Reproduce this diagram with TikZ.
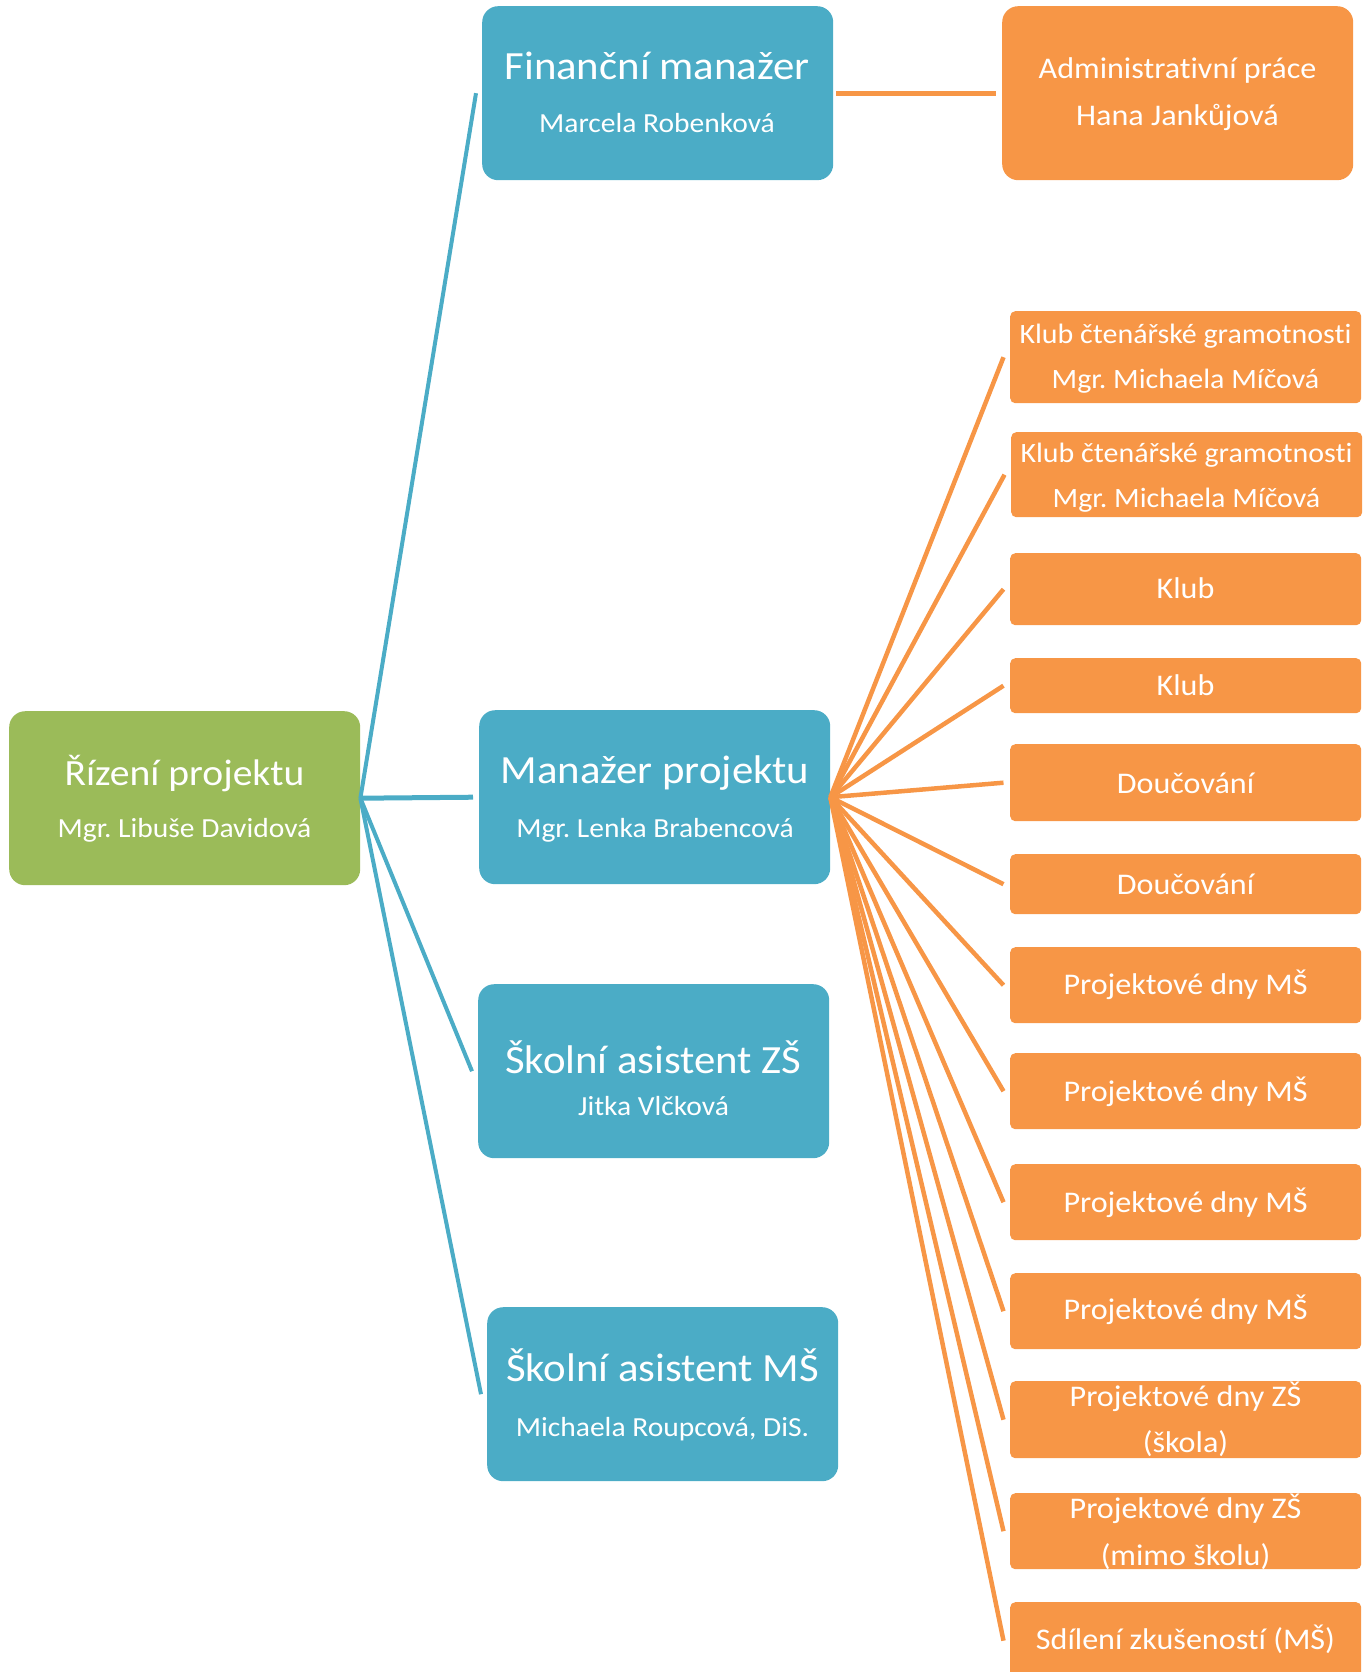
\documentclass[tikz,border=0pt]{standalone}
\usepackage{fontspec}
\setmainfont[FakeStretch=1.07, Ligatures=NoCommon]{Carlito}
\definecolor{cblue}{HTML}{4BACC6}
\definecolor{cgreen}{HTML}{9BBB59}
\definecolor{corange}{HTML}{F79646}
\begin{document}
\frenchspacing
\begin{tikzpicture}[x=1pt,y=-1pt,
  bigbox/.style={rounded corners=16pt, inner sep=0pt, anchor=north west, minimum width=351pt, minimum height=174pt},
  smallbox/.style={rounded corners=5pt, inner sep=0pt, anchor=north west, fill=corange, minimum width=351pt},
  ttl/.style={anchor=base, text=white, inner sep=0pt, font=\fontsize{40}{48}\selectfont},
  sub/.style={anchor=base, text=white, inner sep=0pt, font=\fontsize{27.6}{33}\selectfont},
  otxt/.style={anchor=base, text=white, inner sep=0pt, font=\fontsize{30}{36}\selectfont},
  ktxt/.style={anchor=base, text=white, inner sep=0pt, font=\fontsize{28}{34}\selectfont},
  bline/.style={draw=cblue, line width=4pt},
  oline/.style={draw=corange, line width=4.5pt}]
\useasboundingbox (0,0) rectangle (1366,1672);

% main boxes
\node[bigbox, fill=cgreen] (root) at (9,711) {};
\node[bigbox, fill=cblue] (fin) at (482,6) {};
\node[bigbox, fill=cblue] (mp) at (479,710) {};
\node[bigbox, fill=cblue] (zs) at (478,984) {};
\node[bigbox, fill=cblue] (ms) at (487,1307) {};
\node[bigbox, fill=corange] (adm) at (1002,6) {};

\node[ttl, font=\fontsize{37}{44}\selectfont] (root-t) at (184.5,785) {Řízení projektu};
\node[sub] (root-s) at (184.5,837) {Mgr. Libuše Davidová};
\node[ttl] (fin-t) at (657,80) {Finanční manažer};
\node[sub] (fin-s) at (657,133) {Marcela Robenková};
\node[ttl] (mp-t) at (655,783) {Manažer projektu};
\node[sub] (mp-s) at (655,837) {Mgr. Lenka Brabencová};
\node[ttl] (zs-t) at (653.5,1073) {Školní asistent ZŠ};
\node[sub] (zs-s) at (653.5,1115) {Jitka Vlčková};
\node[ttl] (ms-t) at (662.5,1381) {Školní asistent MŠ};
\node[sub] (ms-s) at (662.5,1436) {Michaela Roupcová, DiS.};
\node[otxt] (adm-t) at (1177.5,79) {Administrativní práce};
\node[otxt] (adm-s) at (1177.5,126) {Hana Jankůjová};

% small orange boxes
\node[smallbox, minimum height=92pt] (k1) at (1010,311) {};
\node[smallbox, minimum height=85pt] (k2) at (1011,432) {};
\node[smallbox, minimum height=72pt] (k3) at (1010,553) {};
\node[smallbox, minimum height=55pt] (k4) at (1010,658) {};
\node[smallbox, minimum height=77pt] (d1) at (1010,744) {};
\node[smallbox, minimum height=60pt] (d2) at (1010,854) {};
\node[smallbox, minimum height=76pt] (p1) at (1010,947) {};
\node[smallbox, minimum height=76pt] (p2) at (1010,1053) {};
\node[smallbox, minimum height=76pt] (p3) at (1010,1164) {};
\node[smallbox, minimum height=76pt] (p4) at (1010,1273) {};
\node[smallbox, minimum height=77pt] (z1) at (1010,1381) {};
\node[smallbox, minimum height=76pt] (z2) at (1010,1493) {};
\node[smallbox, minimum height=77pt] (sd) at (1010,1602) {};

\node[ktxt] (k1-a) at (1185.5,343) {Klub čtenářské gramotnosti};
\node[ktxt] (k1-b) at (1185.5,388) {Mgr. Michaela Míčová};
\node[ktxt] (k2-a) at (1186.5,462) {Klub čtenářské gramotnosti};
\node[ktxt] (k2-b) at (1186.5,507) {Mgr. Michaela Míčová};
\node[otxt] (k3-a) at (1185.5,598) {Klub};
\node[otxt] (k4-a) at (1185.5,695) {Klub};
\node[otxt] (d1-a) at (1185.5,793) {Doučování};
\node[otxt] (d2-a) at (1185.5,894) {Doučování};
\node[otxt] (p1-a) at (1185.5,994) {Projektové dny MŠ};
\node[otxt] (p2-a) at (1185.5,1101) {Projektové dny MŠ};
\node[otxt] (p3-a) at (1185.5,1212) {Projektové dny MŠ};
\node[otxt] (p4-a) at (1185.5,1319) {Projektové dny MŠ};
\node[otxt] (z1-a) at (1185.5,1406) {Projektové dny ZŠ};
\node[otxt] (z1-b) at (1185.5,1452) {(škola)};
\node[otxt] (z2-a) at (1185.5,1518) {Projektové dny ZŠ};
\node[otxt] (z2-b) at (1185.5,1565) {(mimo školu)};
\node[otxt] (sd-a) at (1185.5,1649) {Sdílení zkušeností (MŠ)};

% blue connectors
\draw[bline] (root.east) -- ([xshift=-6pt]fin.west);
\draw[bline, line width=5pt] (root.east) -- ([xshift=-6pt]mp.west);
\draw[bline] (root.east) -- ([xshift=-6pt]zs.west);
\draw[bline] (root.east) -- ([xshift=-6pt]ms.west);

% orange connectors
\draw[oline, line width=5pt, shorten <=3pt] (fin.east) -- ([xshift=-6pt]adm.west);
\foreach \n in {k1,k2,k3,k4,d1,d2,p1,p2,p3,p4,z1,z2,sd}
  \draw[oline] (mp.east) -- ([xshift=-6.5pt]\n.west);
\end{tikzpicture}
\end{document}
